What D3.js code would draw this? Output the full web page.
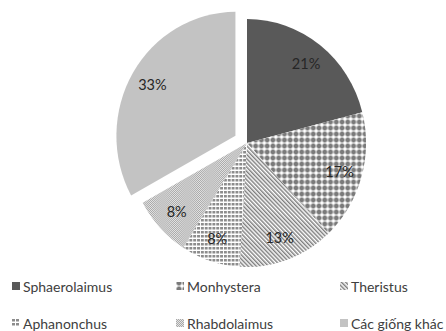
<!DOCTYPE html>
<html>
<head>
<meta charset="utf-8">
<script src="https://cdn.jsdelivr.net/npm/d3@7"></script>
<style>
  body { margin: 0; background: #fff; }
  svg { display: block; }
</style>
</head>
<body>
<svg id="chart" width="446" height="331"></svg>
<script>
// Share of nematode genera (%)
const genera = ["Sphaerolaimus", "Monhystera", "Theristus", "Aphanonchus", "Rhabdolaimus", "Các giống khác"];
const shares = [21, 17, 13, 8, 8, 33];
const exploded = [false, false, false, false, false, true];
const fillIds = ["solidDark", "dotDiamond", "diagStripe", "smallGrid", "fineCheck", "solidLight"];

const svg = d3.select("#chart");
const defs = svg.append("defs");

// Fill patterns
defs.append("pattern").attr("id", "solidDark").attr("patternUnits", "userSpaceOnUse")
  .attr("width", 4).attr("height", 4)
  .append("rect").attr("width", 4).attr("height", 4).attr("fill", "#595959");

defs.append("pattern").attr("id", "solidLight").attr("patternUnits", "userSpaceOnUse")
  .attr("width", 4).attr("height", 4)
  .append("rect").attr("width", 4).attr("height", 4).attr("fill", "#c3c3c3");

const dot = defs.append("pattern").attr("id", "dotDiamond").attr("patternUnits", "userSpaceOnUse")
  .attr("width", 6).attr("height", 6);
dot.append("rect").attr("width", 6).attr("height", 6).attr("fill", "#fff");
dot.append("rect").attr("x", 1.5).attr("y", 0.5).attr("width", 3).attr("height", 5).attr("fill", "#7a7a7a");
dot.append("rect").attr("x", 0.5).attr("y", 1.5).attr("width", 5).attr("height", 3).attr("fill", "#7a7a7a");

const stripe = defs.append("pattern").attr("id", "diagStripe").attr("patternUnits", "userSpaceOnUse")
  .attr("width", 3).attr("height", 3).attr("patternTransform", "rotate(-45)");
stripe.append("rect").attr("width", 3).attr("height", 3).attr("fill", "#fff");
stripe.append("rect").attr("width", 1.5).attr("height", 3).attr("fill", "#7f7f7f");

const grid = defs.append("pattern").attr("id", "smallGrid").attr("patternUnits", "userSpaceOnUse")
  .attr("width", 4).attr("height", 4);
grid.append("rect").attr("width", 4).attr("height", 4).attr("fill", "#fff");
grid.append("rect").attr("x", 0).attr("y", 0).attr("width", 3).attr("height", 2.5).attr("fill", "#8c8c8c");

const check = defs.append("pattern").attr("id", "fineCheck").attr("patternUnits", "userSpaceOnUse")
  .attr("width", 2).attr("height", 2);
check.append("rect").attr("width", 2).attr("height", 2).attr("fill", "#e4e4e4");
check.append("rect").attr("width", 1).attr("height", 1).attr("fill", "#a8a8a8");
check.append("rect").attr("x", 1).attr("y", 1).attr("width", 1).attr("height", 1).attr("fill", "#a8a8a8");

// Pie geometry
const cx = 247, cy = 143, radius = 124, sx = 0.96, explodeDist = 14;
const pie = d3.pie().sort(null).value(d => d)(shares);
const arc = d3.arc().innerRadius(0).outerRadius(radius);
const labelArc = d3.arc().innerRadius(radius * 0.81).outerRadius(radius * 0.81);

const offset = (d, i) => {
  if (!exploded[i]) return [0, 0];
  const a = (d.startAngle + d.endAngle) / 2;
  return [explodeDist * Math.sin(a), -explodeDist * Math.cos(a)];
};

const pieG = svg.append("g").attr("transform", `translate(${cx},${cy}) scale(${sx},1)`);
pieG.selectAll("path").data(pie).join("path")
  .attr("d", arc)
  .attr("transform", (d, i) => { const o = offset(d, i); return `translate(${o[0]},${o[1]})`; })
  .attr("fill", (d, i) => `url(#${fillIds[i]})`);

// Percentage labels
const fontFamily = "Lato, 'Open Sans', sans-serif";
svg.append("g").selectAll("text").data(pie).join("text")
  .attr("x", (d, i) => cx + sx * (labelArc.centroid(d)[0] + offset(d, i)[0]))
  .attr("y", (d, i) => cy + labelArc.centroid(d)[1] + offset(d, i)[1])
  .attr("text-anchor", "middle")
  .attr("dominant-baseline", "central")
  .attr("font-family", fontFamily)
  .attr("font-size", 14.5)
  .attr("fill", "#262626")
  .text(d => d.value + "%");

// Legend, three columns by two rows
const colX = d3.scaleOrdinal().domain([0, 1, 2]).range([12, 176, 340]);
const rowY = d3.scaleOrdinal().domain([0, 1]).range([286, 323]);
const legend = svg.append("g").selectAll("g").data(genera).join("g")
  .attr("transform", (d, i) => `translate(${colX(i % 3)},${rowY(Math.floor(i / 3))})`);
legend.append("rect")
  .attr("x", 0).attr("y", -4).attr("width", 8).attr("height", 8)
  .attr("fill", (d, i) => `url(#${fillIds[i]})`);
legend.append("text")
  .attr("x", 11).attr("y", 0)
  .attr("dominant-baseline", "central")
  .attr("font-family", fontFamily)
  .attr("font-size", 14)
  .attr("fill", "#404040")
  .text(d => d);
</script>
</body>
</html>
